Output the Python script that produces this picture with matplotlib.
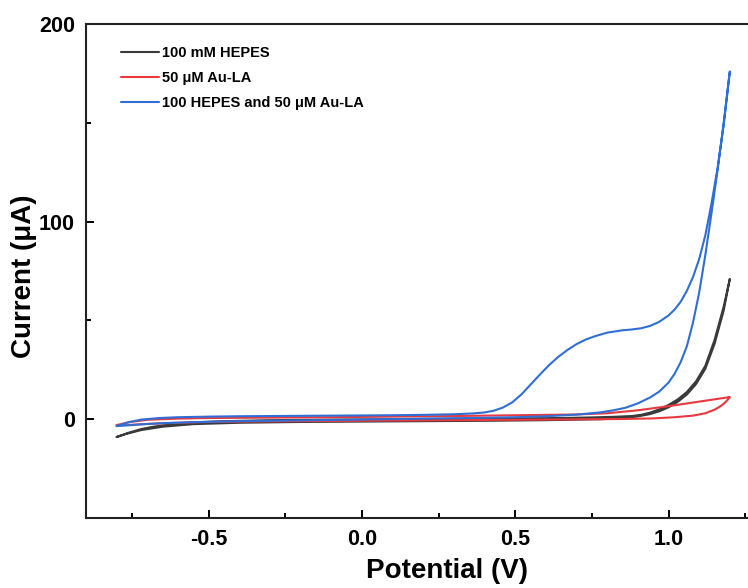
import matplotlib
matplotlib.use("Agg")
import matplotlib.pyplot as plt
from matplotlib.ticker import MultipleLocator, FormatStrFormatter

plt.rcParams["font.family"] = ["Liberation Sans", "DejaVu Sans"]
plt.rcParams["font.weight"] = "bold"

# --- Cyclic voltammograms: forward (anodic) and reverse sweeps ---
labels = ["100 mM HEPES", "50 \u03bcM Au-LA", "100 HEPES and 50 \u03bcM Au-LA"]
colors = ["#3a3a3a", "#e8393f", "#2f6fd5"]

# 100 mM HEPES
hepes_fwd_v = [-0.80, -0.76, -0.72, -0.68, -0.62, -0.55, -0.45, -0.30, -0.10, 0.10,
               0.30, 0.50, 0.65, 0.75, 0.82, 0.88, 0.91, 0.94, 0.97, 1.00,
               1.03, 1.06, 1.09, 1.12, 1.15, 1.18, 1.20]
hepes_fwd_i = [-9.0, -6.8, -5.0, -3.8, -2.5, -1.6, -1.0, -0.5, -0.2, 0.0,
               0.2, 0.4, 0.6, 0.9, 1.2, 1.6, 2.2, 3.3, 5.0, 7.2,
               10.0, 13.8, 19.2, 27.0, 40.0, 57.0, 71.0]
hepes_rev_v = [1.20, 1.18, 1.15, 1.12, 1.09, 1.06, 1.03, 1.00, 0.97, 0.94,
               0.90, 0.85, 0.78, 0.60, 0.40, 0.20, 0.00, -0.20, -0.40, -0.55,
               -0.65, -0.72, -0.77, -0.80]
hepes_rev_i = [71.0, 55.0, 38.0, 25.5, 17.8, 12.5, 8.8, 6.0, 4.0, 2.6,
               1.4, 0.5, 0.0, -0.5, -0.8, -1.0, -1.2, -1.4, -1.8, -2.5,
               -3.8, -5.5, -7.5, -9.0]

# 50 uM Au-LA
aula_fwd_v = [-0.80, -0.76, -0.70, -0.60, -0.50, -0.30, -0.10, 0.10, 0.30, 0.50,
              0.60, 0.70, 0.80, 0.90, 1.00, 1.10, 1.20]
aula_fwd_i = [-3.0, -1.5, -0.3, 0.3, 0.6, 0.8, 1.0, 1.3, 1.6, 2.0,
              2.2, 2.4, 3.0, 4.5, 6.6, 8.9, 11.2]
aula_rev_v = [1.20, 1.195, 1.19, 1.18, 1.17, 1.15, 1.12, 1.08, 1.02, 0.95,
              0.85, 0.70, 0.50, 0.30, 0.10, -0.10, -0.30, -0.50, -0.62, -0.70,
              -0.76, -0.80]
aula_rev_i = [11.2, 10.2, 9.3, 7.8, 6.6, 4.8, 3.0, 1.8, 1.0, 0.4,
              0.1, -0.1, -0.3, -0.5, -0.7, -0.9, -1.1, -1.4, -1.9, -2.4,
              -2.9, -3.0]

# 100 mM HEPES + 50 uM Au-LA
mix_fwd_v = [-0.80, -0.76, -0.72, -0.66, -0.60, -0.50, -0.40, -0.30, -0.20, -0.10,
             0.00, 0.10, 0.20, 0.30, 0.36, 0.40, 0.43, 0.46, 0.49, 0.52,
             0.55, 0.58, 0.61, 0.64, 0.67, 0.70, 0.73, 0.76, 0.80, 0.85,
             0.88, 0.91, 0.94, 0.97, 1.00, 1.02, 1.04, 1.06, 1.08, 1.10,
             1.12, 1.14, 1.16, 1.18, 1.20]
mix_fwd_i = [-3.5, -1.5, -0.2, 0.6, 1.0, 1.3, 1.5, 1.6, 1.7, 1.8,
             1.9, 2.0, 2.2, 2.5, 2.9, 3.4, 4.3, 5.9, 8.5, 12.5,
             17.5, 22.5, 27.3, 31.5, 35.0, 38.0, 40.3, 42.0, 43.8, 45.0,
             45.4, 46.0, 47.2, 49.3, 52.5, 55.5, 59.5, 65.0, 72.0, 81.0,
             93.0, 109.0, 127.0, 149.0, 176.0]
mix_rev_v = [1.20, 1.18, 1.16, 1.14, 1.12, 1.10, 1.08, 1.06, 1.04, 1.02,
             1.00, 0.97, 0.94, 0.90, 0.86, 0.82, 0.78, 0.70, 0.60, 0.50,
             0.40, 0.30, 0.20, 0.00, -0.20, -0.40, -0.55, -0.65, -0.72, -0.77,
             -0.80]
mix_rev_i = [176.0, 150.0, 126.0, 104.0, 83.0, 64.0, 49.0, 37.0, 29.0, 23.0,
             18.5, 14.0, 11.0, 8.0, 5.8, 4.5, 3.5, 2.3, 1.5, 1.0,
             0.7, 0.5, 0.3, -0.2, -0.6, -1.0, -1.5, -2.0, -2.6, -3.2,
             -3.5]

series = [
    (hepes_fwd_v + hepes_rev_v, hepes_fwd_i + hepes_rev_i),
    (aula_fwd_v + aula_rev_v, aula_fwd_i + aula_rev_i),
    (mix_fwd_v + mix_rev_v, mix_fwd_i + mix_rev_i),
]

fig = plt.figure(figsize=(7.48, 5.88), dpi=100)
# axes run past the right edge of the canvas
ax = fig.add_axes([86 / 748, 70 / 588, (808 - 86) / 748, 494 / 588])

for (v, i), lab, col in zip(series, labels, colors):
    ax.plot(v, i, color=col, lw=1.5, label=lab,
            solid_capstyle="round", solid_joinstyle="round")

ax.set_xlim(-0.9, 1.455)
ax.set_ylim(-50, 200)

ax.xaxis.set_major_locator(MultipleLocator(0.5))
ax.xaxis.set_minor_locator(MultipleLocator(0.25))
ax.yaxis.set_major_locator(MultipleLocator(100))
ax.yaxis.set_minor_locator(MultipleLocator(50))
ax.xaxis.set_major_formatter(FormatStrFormatter("%.1f"))

ax.tick_params(which="both", direction="in", width=1.4, top=False, right=False,
               labelsize=15.5, pad=8)
ax.tick_params(which="major", length=6)
ax.tick_params(which="minor", length=3.5)
for sp in ax.spines.values():
    sp.set_linewidth(1.5)
    sp.set_color("#222222")

ax.set_xlabel("Potential (V)", fontsize=20, fontweight="bold", labelpad=6)
ax.set_ylabel("Current (\u03bcA)", fontsize=20, fontweight="bold")
ax.yaxis.set_label_coords(-0.068, 0.49)

leg = ax.legend(loc="upper left", bbox_to_anchor=(0.048, 0.955), frameon=False,
                fontsize=10.5, handlelength=2.6, handletextpad=0.25,
                labelspacing=0.75, borderpad=0, borderaxespad=0)
for t in leg.get_texts():
    t.set_fontweight("bold")

fig.savefig("out.png", dpi=100)
